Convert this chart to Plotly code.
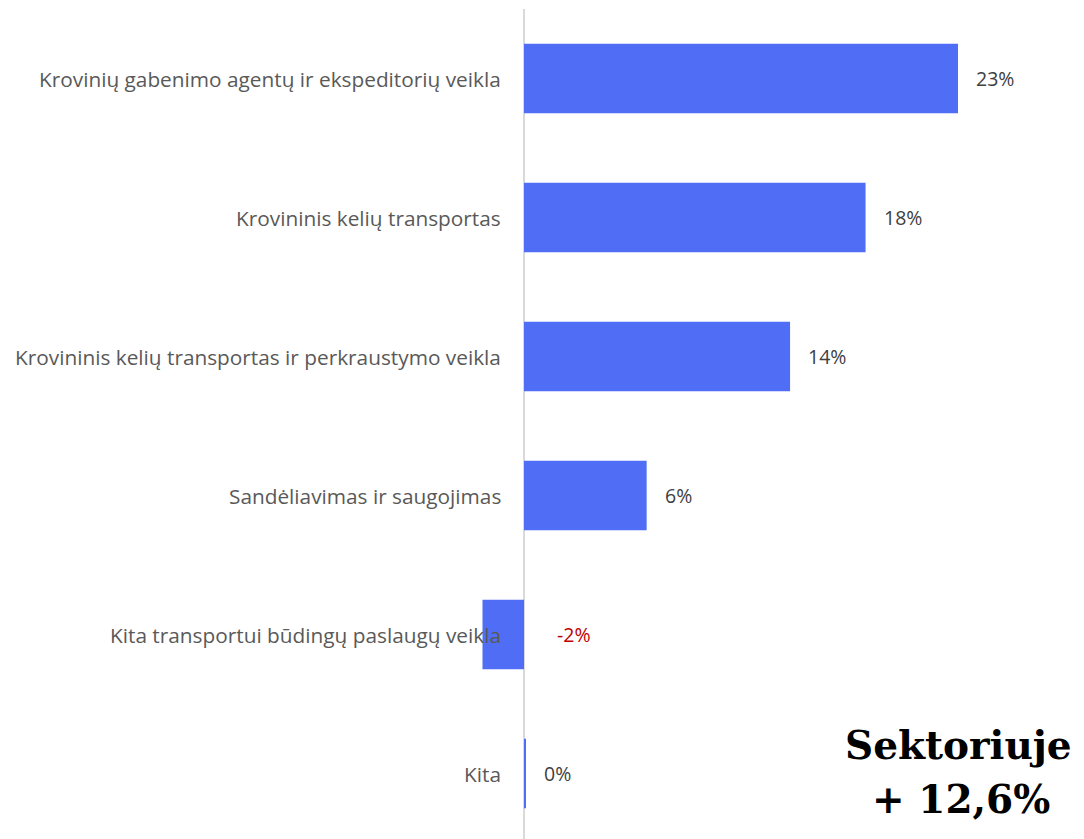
import plotly.graph_objects as go

categories = [
    "Krovinių gabenimo agentų ir ekspeditorių veikla",
    "Krovininis kelių transportas",
    "Krovininis kelių transportas ir perkraustymo veikla",
    "Sandėliavimas ir saugojimas",
    "Kita transportui būdingų paslaugų veikla",
    "Kita",
]
values = [23.0, 18.1, 14.1, 6.5, -2.2, 0.1]
value_labels = ["23%", "18%", "14%", "6%", "-2%", "0%"]
summary_lines = ["Sektoriuje", "+ 12,6%"]

W, H = 1084, 839
OFF = 8  # page body margin
zero_px = 524 - OFF
px_per_unit = 18.87
L, R, T, B = 0, 0, 1, 4
xmin = (L - zero_px) / px_per_unit
xmax = (W - R - zero_px) / px_per_unit

fig = go.Figure()
fig.add_trace(go.Bar(
    y=categories, x=values, orientation="h",
    marker=dict(color="#4F6EF5", line=dict(width=0)),
    width=0.5, hoverinfo="skip",
))

annotations = []
label_x = (503 - OFF - zero_px) / px_per_unit
FONT = "Open Sans, Lato, sans-serif"
for c, v, t in zip(categories, values, value_labels):
    annotations.append(dict(
        x=label_x, y=c, xref="x", yref="y", text=c, showarrow=False,
        xanchor="right", yanchor="middle",
        font=dict(family=FONT, size=20.8, color="#595959"),
    ))
    annotations.append(dict(
        x=max(v, 0), y=c, xref="x", yref="y", text=t, showarrow=False,
        xanchor="left", yanchor="middle", xshift=31 if v < 0 else 16,
        font=dict(family=FONT, size=19.5,
                  color="#C00000" if v < 0 else "#404040"),
    ))
for line, (cx, cy) in zip(summary_lines, [(958, 748), (961, 803)]):
    annotations.append(dict(
        x=(cx - OFF) / W, y=1 - (cy - OFF) / H, xref="paper", yref="paper",
        text="<b>" + line + "</b>", showarrow=False,
        xanchor="center", yanchor="middle",
        font=dict(family="DejaVu Serif, serif", size=39, color="#000000"),
    ))

fig.update_layout(
    width=W, height=H,
    margin=dict(l=L, r=R, t=T, b=B, autoexpand=False),
    paper_bgcolor="white", plot_bgcolor="white",
    showlegend=False,
    xaxis=dict(range=[xmin, xmax], showgrid=False, showticklabels=False,
               zeroline=True, zerolinecolor="#D9D9D9", zerolinewidth=2, fixedrange=True),
    yaxis=dict(showgrid=False, showticklabels=False, autorange=False,
               range=[5.5, -0.5], zeroline=False),
    annotations=annotations,
)

fig.write_html("out.html")
